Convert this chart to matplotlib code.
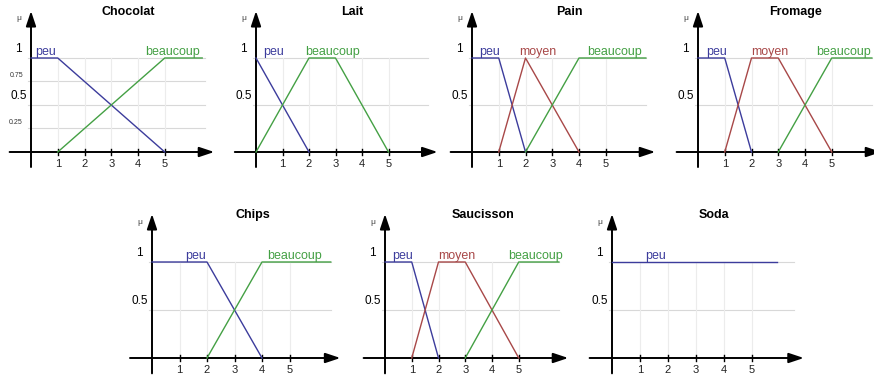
import matplotlib
matplotlib.use("Agg")
import matplotlib.pyplot as plt

plt.rcParams['font.family'] = ['Liberation Sans', 'DejaVu Sans']

# membership functions: (breakpoints x, breakpoints mu)
titles = ["Chocolat", "Lait", "Pain", "Fromage", "Chips", "Saucisson", "Soda"]

chocolat = {"peu": ([0, 1, 5], [1, 1, 0]),
            "beaucoup": ([1, 5, 6.4], [0, 1, 1])}
lait = {"peu": ([0, 2], [1, 0]),
        "beaucoup": ([0, 2, 3, 5], [0, 1, 1, 0])}
pain = {"peu": ([0, 1, 2], [1, 1, 0]),
        "moyen": ([1, 2, 4], [0, 1, 0]),
        "beaucoup": ([2, 4, 6.5], [0, 1, 1])}
fromage = {"peu": ([0, 1, 2], [1, 1, 0]),
           "moyen": ([1, 2, 3, 5], [0, 1, 1, 0]),
           "beaucoup": ([3, 5, 6.5], [0, 1, 1])}
chips = {"peu": ([0, 2, 4], [1, 1, 0]),
         "beaucoup": ([2, 4, 6.5], [0, 1, 1])}
saucisson = {"peu": ([0, 1, 2], [1, 1, 0]),
             "moyen": ([1, 2, 3, 5], [0, 1, 1, 0]),
             "beaucoup": ([3, 5, 6.5], [0, 1, 1])}
soda = {"peu": ([0, 5.9], [1, 1])}
sets = [chocolat, lait, pain, fromage, chips, saucisson, soda]

# where each set name is written (left x)
label_x = [
    {"peu": 0.15, "beaucoup": 4.25},
    {"peu": 0.26, "beaucoup": 1.85},
    {"peu": 0.26, "moyen": 1.76, "beaucoup": 4.3},
    {"peu": 0.3, "moyen": 2.0, "beaucoup": 4.4},
    {"peu": 1.2, "beaucoup": 4.2},
    {"peu": 0.26, "moyen": 2.0, "beaucoup": 4.6},
    {"peu": 1.2},
]
y_ticks = [[1, 0.75, 0.5, 0.25], [1, 0.5], [1, 0.5], [1, 0.5],
           [1, 0.5], [1, 0.5], [1, 0.5]]
x_ticks = [1, 2, 3, 4, 5]

colors = {"peu": "#3c3c9c", "moyen": "#a84848", "beaucoup": "#44a044"}

# panel origin in pixels (x of y-axis, y of x-axis) and scale
origins = [(31, 152, 26.75, 94), (256, 152, 26.5, 94), (472, 152, 26.75, 94),
           (698, 152, 26.75, 94), (152, 358, 27.5, 96), (385, 358, 26.75, 96),
           (612, 358, 28.0, 96)]

W, H = 874, 383
fig = plt.figure(figsize=(W / 100, H / 100), dpi=100)

x0, x1, y0, y1 = -1.0, 7.2, -0.3, 1.6
arrow = dict(arrowstyle="-|>,head_length=0.9,head_width=0.3",
             color="black", lw=1.4, shrinkA=0, shrinkB=0)
for i, (ox, oy, sx, sy) in enumerate(origins):
    rect = [(ox + x0 * sx) / W, (H - oy + y0 * sy) / H,
            (x1 - x0) * sx / W, (y1 - y0) * sy / H]
    ax = fig.add_axes(rect)
    ax.set_xlim(x0, x1)
    ax.set_ylim(y0, y1)
    ax.axis("off")

    # grid
    for yt in y_ticks[i]:
        ax.plot([-0.1, 6.5], [yt, yt], color="#d8d8d8", lw=0.8, zorder=1)
    for xt in x_ticks:
        ax.plot([xt, xt], [0, 1], color="#ececec", lw=0.8, zorder=1)

    # axes with arrows
    ax.annotate("", xy=(6.85, 0), xytext=(-0.8, 0), arrowprops=arrow)
    ax.annotate("", xy=(0, 1.5), xytext=(0, -0.16), arrowprops=arrow)
    for xt in x_ticks:
        ax.plot([xt, xt], [-0.03, 0.03], color="black", lw=1.0)
        ax.text(xt, -0.07, str(xt), ha="center", va="top", fontsize=8,
                color="#222222")

    # y labels
    for yt in y_ticks[i]:
        if yt in (0.75, 0.25):
            ax.text(-0.3, yt + 0.03, "%g" % yt, ha="right", va="bottom",
                    fontsize=5, color="#333333")
        else:
            ax.text(-0.15 if yt == 0.5 else -0.35, yt + 0.03, "%g" % yt,
                    ha="right", va="bottom", fontsize=8.5)
    ax.text(-0.35, 1.38, "\u03bc", ha="right", va="bottom", fontsize=6,
            color="#444444")

    ax.text(3.65, 1.49, titles[i], ha="center", va="center", fontsize=9,
            fontweight="bold")

    for name, (xs, ys) in sets[i].items():
        ax.plot(xs, ys, color=colors[name], lw=1.0, zorder=3)
        ax.text(label_x[i][name], 1.0, name, ha="left", va="bottom",
                fontsize=9, color=colors[name])

fig.savefig("out.png", dpi=100)
